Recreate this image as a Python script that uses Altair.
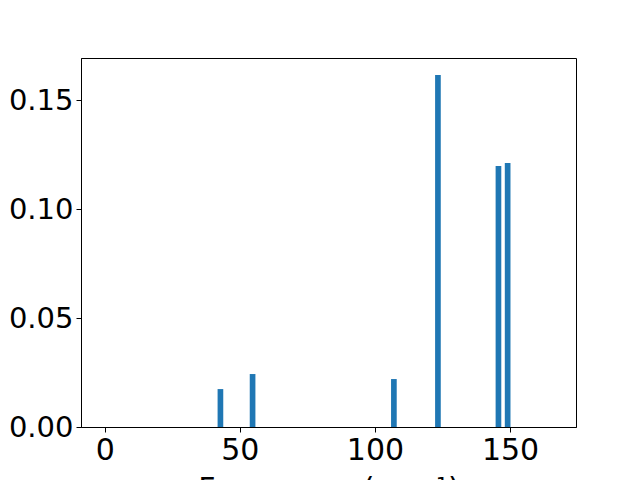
import altair as alt
import pandas as pd

frequencies = [42.8, 54.7, 107.0, 123.3, 145.7, 149.1]
intensities = [0.0174, 0.0243, 0.0220, 0.1615, 0.1197, 0.1211]
x_ticks = [0, 50, 100, 150]
y_ticks = [0.00, 0.05, 0.10, 0.15]

df = pd.DataFrame({"freq": frequencies, "inten": intensities})
BAR_W = 2.1

font = "DejaVu Sans"

chart = (
    alt.Chart(df)
    .transform_calculate(x0=f"datum.freq - {BAR_W/2}", x1=f"datum.freq + {BAR_W/2}")
    .mark_bar(color="#1f77b4")
    .encode(
        x=alt.X(
            "x0:Q",
            scale=alt.Scale(domain=[-8.8, 174.4], nice=False, zero=False),
            axis=alt.Axis(
                values=x_ticks, format="d", title="Frequency (cm⁻¹)",
                grid=False, tickSize=5, tickColor="black", domainColor="black",
                labelFontSize=30, titleFontSize=30, labelFont=font, titleFont=font,
                labelColor="black", titleColor="black", titleFontWeight="normal",
                labelPadding=3, titlePadding=9, labelFlush=False,
            ),
        ),
        x2="x1:Q",
        y=alt.Y(
            "inten:Q",
            scale=alt.Scale(domain=[0, 0.1693], nice=False),
            axis=alt.Axis(
                values=y_ticks, format=".2f", title=None,
                grid=False, tickSize=5, tickColor="black", domainColor="black",
                labelFontSize=29, labelFont=font, labelColor="black",
                labelPadding=3, labelFlush=False,
            ),
        ),
        y2=alt.datum(0),
    )
    .properties(
        width=495, height=369,
        autosize=alt.AutoSizeParams(type="none"),
        padding={"left": 73, "top": 50, "right": 56, "bottom": 90},
    )
    .configure_view(stroke="black", strokeWidth=1)
    .configure_axis(domainWidth=1, tickWidth=1)
)

chart.save("out.html", embed_options={"renderer": "svg", "actions": False})
